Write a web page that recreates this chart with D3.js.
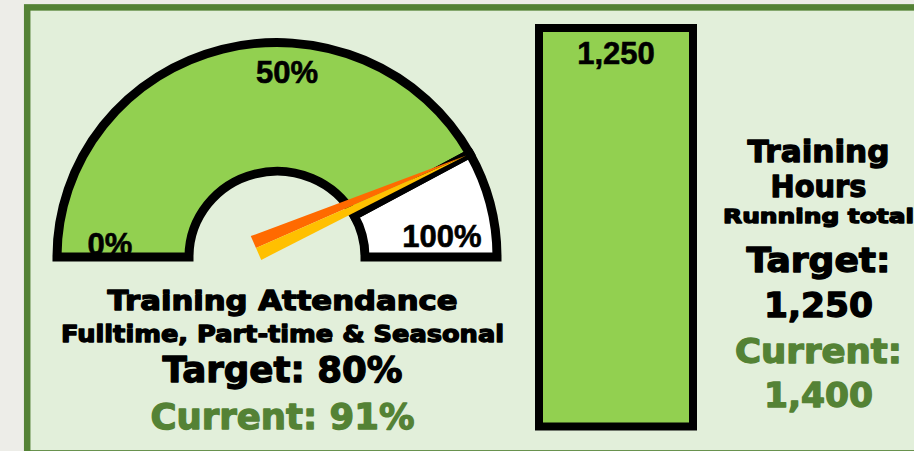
<!DOCTYPE html>
<html>
<head>
<meta charset="utf-8">
<script src="https://cdnjs.cloudflare.com/ajax/libs/d3/7.8.5/d3.min.js"></script>
<style>
  body { margin: 0; background: #ecece6; }
  svg { display: block; }
  .bold-arial { font-family: "Liberation Sans", Arial, sans-serif; font-weight: bold; stroke: #000; stroke-width: 0.6; }
  .bold-wide { font-family: "DejaVu Sans", Verdana, sans-serif; font-weight: bold; stroke-width: 1.3; stroke-linejoin: round; }
</style>
</head>
<body>
<div class="chart"></div>
<script>
/* Data
============================================= */
const gaugeTicks = [0, 50, 100];
const gaugeBandEdges = [0, 84, 100];
const gaugeNeedle = 84;
const gaugeTarget = 80;
const gaugeCurrent = 91;
const gaugeTitle = ["Training Attendance", "Fulltime, Part-time & Seasonal"];

const barCategories = ["Training Hours"];
const barValues = [1250];
const barAxisMax = 1250;
const hoursTarget = 1250;
const hoursCurrent = 1400;
const hoursTitle = ["Training", "Hours", "Running total"];

/* Global Constants
============================================= */
const SVG_WIDTH = 914;
const SVG_HEIGHT = 451;

const GREEN_FILL = "#92d050";
const DARK_GREEN = "#548235";
const PANEL_FILL = "#e2efda";
const ORANGE = "#ff6a00";
const YELLOW = "#ffc000";

const fmt = d3.format(",");

var svg = d3.select(".chart")
    .append("svg")
    .attr("width", SVG_WIDTH)
    .attr("height", SVG_HEIGHT);

// background + panel
svg.append("rect")
    .attr("width", SVG_WIDTH)
    .attr("height", SVG_HEIGHT)
    .attr("fill", "#ededE8");

svg.append("rect")
    .attr("x", 27.2)
    .attr("y", 7.4)
    .attr("width", 960)
    .attr("height", 446)
    .attr("fill", PANEL_FILL)
    .attr("stroke", DARK_GREEN)
    .attr("stroke-width", 6.5);

//****************** gauge *****************************//
var gauge = {cx: 277, cy: 257, rIn: 88, rOut: 220, squash: 0.975};

var angle = d3.scaleLinear()
    .domain([0, 100])
    .range([-Math.PI / 2, Math.PI / 2]);

var arc = d3.arc()
    .innerRadius(gauge.rIn)
    .outerRadius(gauge.rOut);

var bands = d3.pairs(gaugeBandEdges).map(function(p, i) {
    return {from: p[0], to: p[1], fill: i === 0 ? GREEN_FILL : "#ffffff"};
});

var gaugeG = svg.append("g")
    .attr("transform", `translate(${gauge.cx}, ${gauge.cy}) scale(1, ${gauge.squash})`);

gaugeG.selectAll("path.band")
    .data(bands)
    .enter()
    .append("path")
    .attr("class", "band")
    .attr("d", function(d) {
        return arc({startAngle: angle(d.from), endAngle: angle(d.to)});
    })
    .attr("fill", function(d) { return d.fill; });

// polar point in screen coords
function polar(v, r) {
    var a = angle(v);
    return [gauge.cx + r * Math.sin(a), gauge.cy - r * Math.cos(a) * gauge.squash];
}

var tickNudge = {0: [0, -2], 50: [10, -11], 100: [-2, -10]};

svg.selectAll("text.tick")
    .data(gaugeTicks)
    .enter()
    .append("text")
    .attr("class", "tick bold-arial")
    .attr("x", function(d) { return polar(d, 167)[0] + tickNudge[d][0]; })
    .attr("y", function(d) { return polar(d, 167)[1] + tickNudge[d][1]; })
    .attr("text-anchor", "middle")
    .attr("font-size", 31)
    .text(function(d) { return d + "%"; });

// outlines on top of labels
svg.append("g")
    .attr("transform", `translate(${gauge.cx}, ${gauge.cy}) scale(1, ${gauge.squash})`)
    .selectAll("path")
    .data(bands)
    .enter()
    .append("path")
    .attr("d", function(d) {
        return arc({startAngle: angle(d.from), endAngle: angle(d.to)});
    })
    .attr("fill", "none")
    .attr("stroke", "#000")
    .attr("stroke-width", 9)
    .attr("stroke-linejoin", "miter");

// needle: two thin wedges meeting at the tip
var tip = polar(gaugeNeedle, 216);
var base = [gauge.cx - 21, gauge.cy - 9];
var ux = tip[0] - base[0], uy = tip[1] - base[1];
var len = Math.sqrt(ux * ux + uy * uy);
var nx = -uy / len * 13, ny = ux / len * 13;
var upper = [base[0] - nx, base[1] - ny];
var lower = [base[0] + nx, base[1] + ny];

svg.selectAll("path.needle")
    .data([[tip, upper, base, ORANGE], [tip, base, lower, YELLOW]])
    .enter()
    .append("path")
    .attr("class", "needle")
    .attr("d", function(d) { return d3.line()(d.slice(0, 3)) + "Z"; })
    .attr("fill", function(d) { return d[3]; });

//****************** gauge text *****************************//
var leftLines = [
    {t: gaugeTitle[0], y: 310, size: 26, w: 350, c: "#000"},
    {t: gaugeTitle[1], y: 341.5, size: 23, w: 443, c: "#000"},
    {t: `Target: ${gaugeTarget}%`, y: 382, size: 36, w: 240, c: "#000"},
    {t: `Current: ${gaugeCurrent}%`, y: 429, size: 36, w: 264, c: DARK_GREEN}
];

svg.selectAll("text.left")
    .data(leftLines)
    .enter()
    .append("text")
    .attr("class", "left bold-wide")
    .attr("x", 282.5)
    .attr("y", function(d) { return d.y; })
    .attr("text-anchor", "middle")
    .attr("font-size", function(d) { return d.size; })
    .attr("textLength", function(d) { return d.w; })
    .attr("lengthAdjust", "spacingAndGlyphs")
    .attr("fill", function(d) { return d.c; })
    .attr("stroke", function(d) { return d.c; })
    .text(function(d) { return d.t; });

//****************** bar *****************************//
var xBand = d3.scaleBand()
    .domain(barCategories)
    .range([539, 693])
    .padding(0);

var yLinear = d3.scaleLinear()
    .domain([0, barAxisMax])
    .range([426.5, 28]);

var bar = svg.append("g");

bar.selectAll("rect")
    .data(barValues)
    .enter()
    .append("rect")
    .attr("x", function(d, i) { return xBand(barCategories[i]); })
    .attr("width", xBand.bandwidth())
    .attr("y", function(d) { return yLinear(d); })
    .attr("height", function(d) { return yLinear(0) - yLinear(d); })
    .attr("fill", GREEN_FILL)
    .attr("stroke", "#000")
    .attr("stroke-width", 8);

bar.selectAll("text")
    .data(barValues)
    .enter()
    .append("text")
    .attr("class", "bold-arial")
    .attr("x", function(d, i) { return xBand(barCategories[i]) + xBand.bandwidth() / 2; })
    .attr("y", function(d) { return yLinear(d) + 36; })
    .attr("text-anchor", "middle")
    .attr("font-size", 31)
    .text(function(d) { return fmt(d); });

//****************** hours text *****************************//
var rightLines = [
    {t: hoursTitle[0], y: 161.5, size: 31, w: 142, c: "#000"},
    {t: hoursTitle[1], y: 197, size: 31, w: 96, c: "#000"},
    {t: hoursTitle[2], y: 223.3, size: 19.5, w: 191, c: "#000"},
    {t: "Target:", y: 271.5, size: 33, w: 144, c: "#000"},
    {t: fmt(hoursTarget), y: 317, size: 33, w: 109, c: "#000"},
    {t: "Current:", y: 362.5, size: 33, w: 167, c: DARK_GREEN},
    {t: fmt(hoursCurrent), y: 406.5, size: 33, w: 109, c: DARK_GREEN}
];

svg.selectAll("text.right")
    .data(rightLines)
    .enter()
    .append("text")
    .attr("class", "right bold-wide")
    .attr("x", 818.5)
    .attr("y", function(d) { return d.y; })
    .attr("text-anchor", "middle")
    .attr("font-size", function(d) { return d.size; })
    .attr("textLength", function(d) { return d.w; })
    .attr("lengthAdjust", "spacingAndGlyphs")
    .attr("fill", function(d) { return d.c; })
    .attr("stroke", function(d) { return d.c; })
    .text(function(d) { return d.t; });
</script>
</body>
</html>
